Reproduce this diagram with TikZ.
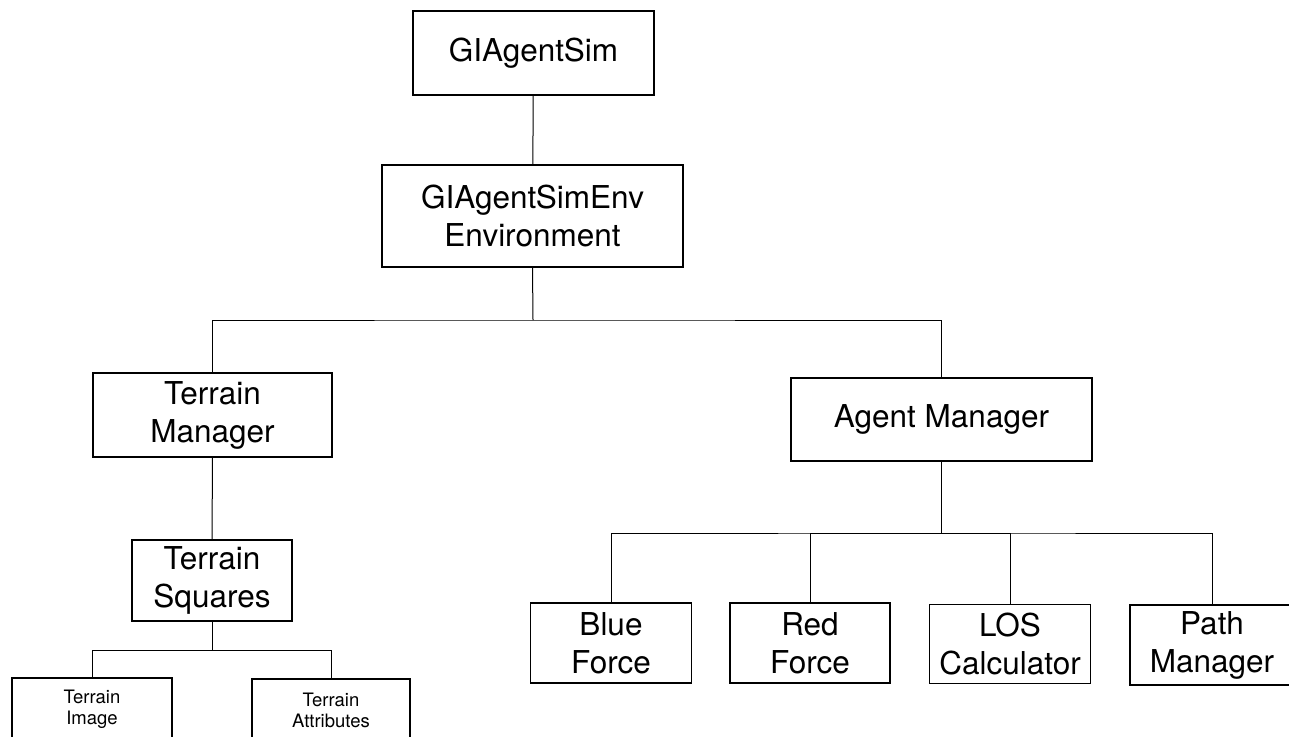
\documentclass[tikz,border=0pt]{standalone}
\usepackage{fontspec}
\setmainfont{TeX Gyre Heros}
\usetikzlibrary{positioning}
\tikzset{
  box/.style={draw,line width=1.3pt,align=center,inner sep=0pt,
    font={\fontsize{31.5}{38}\selectfont}},
  smallbox/.style={box,font={\fontsize{18.5}{21}\selectfont}}
}
\begin{document}
\begin{tikzpicture}[x=1pt,y=-1pt]
      \useasboundingbox (0,0) rectangle (1289,736);
      \clip (0,0) rectangle (1289,736);
      \node[box,minimum width=241pt,minimum height=84pt] (sim) at (533.5,53) {GIAgentSim};
      \node[box,minimum width=301pt,minimum height=102pt] (env) at (532.5,216) {GIAgentSimEnv\\Environment};
      \node[box,minimum width=239pt,minimum height=84pt] (tman) at (212.5,415) {Terrain\\Manager};
      \node[box,minimum width=160pt,minimum height=81pt] (tsq) at (212,580.5) {Terrain\\Squares};
      \node[smallbox,minimum width=160pt,minimum height=62pt] (timg) at (92,709) {Terrain\\Image};
      \node[smallbox,minimum width=158pt,minimum height=62pt] (tatt) at (331,710) {Terrain\\Attributes};
      \node[box,minimum width=301pt,minimum height=83pt] (aman) at (941.5,419.5) {Agent Manager};
      \node[box,minimum width=161pt,minimum height=80pt] (blue) at (611,643) {Blue\\Force};
      \node[box,minimum width=160pt,minimum height=80pt] (red) at (810,643) {Red\\Force};
      \node[box,minimum width=161pt,minimum height=79pt] (los) at (1010,644) {LOS\\Calculator};
      \node[box,minimum width=164pt,minimum height=80pt] (path) at (1212,645) {Path\\Manager};
      % tree lines
      \coordinate (envbus) at (533,320);
      \coordinate (tsqbus) at (212,650);
      \coordinate (amanbus) at (941.5,533);
      \begin{scope}[line width=1pt]
        \draw (sim) -- (env);
        \draw (env.south) -- (envbus);
        \draw (tman.north) |- (envbus) -| (aman.north);
        \draw (tman) -- (tsq);
        \draw (tsq.south) -- (tsqbus);
        \draw (timg.north) |- (tsqbus) -| (tatt.north);
        \draw (aman.south) -- (amanbus);
        \draw (blue.north) |- (amanbus) -| (path.north);
        \draw (red.north) |- (amanbus);
        \draw (los.north) |- (amanbus);
      \end{scope}
    \end{tikzpicture}
\end{document}
